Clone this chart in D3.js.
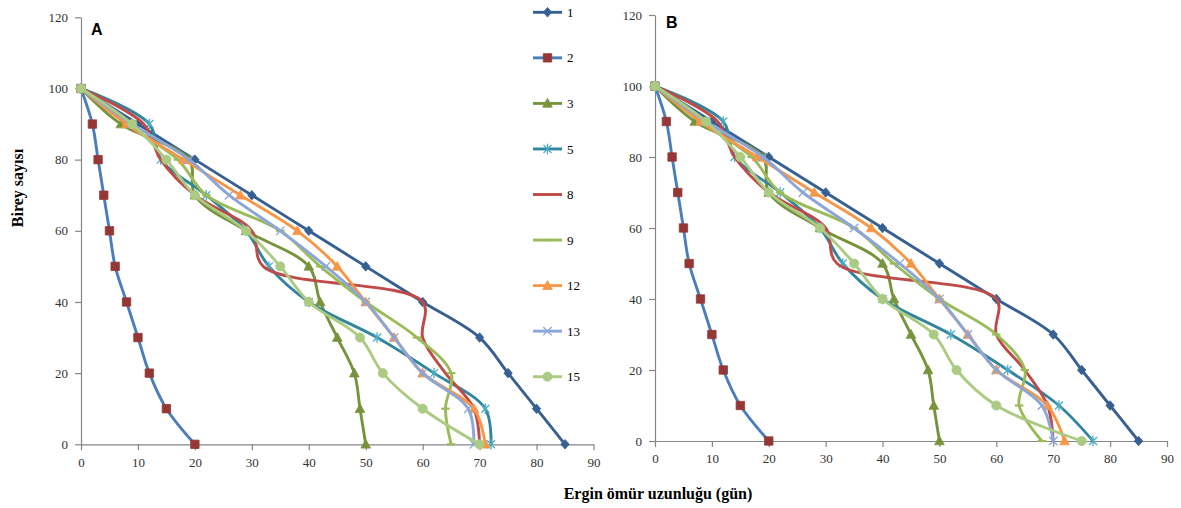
<!DOCTYPE html>
<html>
<head>
<meta charset="utf-8">
<script src="https://cdn.jsdelivr.net/npm/d3@7"></script>
<style>
  body { margin: 0; background: #fff; }
  svg { display: block; }
</style>
</head>
<body>
<div id="chartArea"></div>
<script>
const w = 1181;
const h = 508;

// number of individuals still alive (y) at each reading
const birey = [100, 90, 80, 70, 60, 50, 40, 30, 20, 10, 0];
const seriesNames = ["1", "2", "3", "5", "8", "9", "12", "13", "15"];
const yTicks = [0, 20, 40, 60, 80, 100, 120];
const xTicks = [0, 10, 20, 30, 40, 50, 60, 70, 80, 90];

// panel A: day reached for each level
const a1  = [0, 10, 20, 30, 40, 50, 60, 70, 75, 80, 85];
const a2  = [0, 2, 3, 4, 5, 6, 8, 10, 12, 15, 20];
const a3  = [0, 7, 19, 20, 29, 40, 42, 45, 48, 49, 50];
const a5  = [0, 12, 14, 22, 29, 33, 40, 52, 62, 71, 72];
const a8  = [0, 11, 14, 20, 30, 32, 60, 60, 64, 69, 70];
const a9  = [0, 8, 17, 22, 35, 42, 50, 59, 65, 64, 65];
const a12 = [0, 8, 18, 28, 38, 45, 50, 55, 60, 69, 71];
const a13 = [0, 9, 19, 26, 35, 43, 50, 55, 60, 68, 69];
const a15 = [0, 9, 15, 20, 29, 35, 40, 49, 53, 60, 70];

// panel B
const b1  = [0, 10, 20, 30, 40, 50, 60, 70, 75, 80, 85];
const b2  = [0, 2, 3, 4, 5, 6, 8, 10, 12, 15, 20];
const b3  = [0, 7, 19, 20, 29, 40, 42, 45, 48, 49, 50];
const b5  = [0, 12, 14, 22, 29, 33, 40, 52, 62, 71, 77];
const b8  = [0, 11, 14, 20, 30, 32, 60, 60, 65, 69, 70];
const b9  = [0, 8, 17, 22, 35, 42, 50, 60, 65, 64, 68];
const b12 = [0, 8, 18, 28, 38, 45, 50, 55, 60, 69, 72];
const b13 = [0, 9, 19, 26, 35, 43, 50, 55, 60, 68, 70];
const b15 = [0, 9, 15, 20, 29, 35, 40, 49, 53, 60, 75];

const lineColors = ["#376092", "#4A7EBB", "#77933C", "#31859C", "#BE4B48", "#9BBB59", "#F79646", "#8CA6D8", "#ABCB82"];
const markColors = ["#376092", "#953735", "#77933C", "#4BACC6", "none", "#9BBB59", "#F79646", "#8CA6D8", "#ABCB82"];
const markTypes  = ["diamond", "square", "triangle", "asterisk", "none", "dash", "triangle", "cross", "circle"];

const svg = d3.select("#chartArea")
    .append("svg")
    .attr("width", w)
    .attr("height", h);

svg.append("rect").attr("width", w).attr("height", h).attr("fill", "#fff");

function markerPath(type) {
    switch (type) {
        case "diamond": return "M0,-4.8L4.2,0L0,4.8L-4.2,0Z";
        case "square": return "M-4.2,-4.2H4.2V4.2H-4.2Z";
        case "triangle": return "M0,-5L4.8,3.8L-4.8,3.8Z";
        case "asterisk": return "M-4,-4L4,4M-4,4L4,-4M0,-5.2L0,5.2";
        case "cross": return "M-4.2,-4.2L4.2,4.2M-4.2,4.2L4.2,-4.2";
        case "dash": return "M-4.2,0L4.2,0";
        case "circle": return "M4.6,0A4.6,4.6 0 1,1 -4.6,0A4.6,4.6 0 1,1 4.6,0Z";
    }
    return "";
}

function drawMarker(g, type, color, px, py) {
    if (type === "none") return;
    const open = (type === "asterisk" || type === "cross" || type === "dash");
    g.append("path")
        .attr("d", markerPath(type))
        .attr("transform", `translate(${px},${py})`)
        .attr("fill", open ? "none" : color)
        .attr("stroke", color)
        .attr("stroke-width", open ? (type === "dash" ? 2.2 : 1.3) : 0.8);
}

function drawPanel(box, days, letter) {
    const x = d3.scaleLinear().domain([0, 90]).range([box.x0, box.x1]);
    const y = d3.scaleLinear().domain([0, 120]).range([box.y0, box.y1]);

    const yAxis = d3.axisLeft(y).tickValues(yTicks).tickSize(6).tickSizeOuter(0).tickPadding(7);
    const xAxis = d3.axisBottom(x).tickValues(xTicks).tickSize(6).tickSizeOuter(0).tickPadding(7);

    const gy = svg.append("g").attr("transform", `translate(${box.x0},0)`).call(yAxis);
    const gx = svg.append("g").attr("transform", `translate(0,${box.y0})`).call(xAxis);
    [gx, gy].forEach(g => {
        g.select(".domain").attr("stroke", "#868686").attr("stroke-width", 1.2);
        g.selectAll(".tick line").attr("stroke", "#868686").attr("stroke-width", 1.2);
        g.selectAll(".tick text")
            .attr("font-family", "'Liberation Serif', 'Times New Roman', serif")
            .attr("font-size", 13)
            .attr("fill", "#333");
    });

    svg.append("text")
        .attr("x", box.lx)
        .attr("y", box.ly)
        .attr("font-family", "'Liberation Sans', Arial, sans-serif")
        .attr("font-weight", "bold")
        .attr("font-size", 16)
        .attr("fill", "#000")
        .text(letter);

    const line = d3.line()
        .x(d => x(d[0]))
        .y(d => y(d[1]))
        .curve(d3.curveCatmullRom.alpha(0.5));

    days.forEach((arr, i) => {
        const pts = arr.map((d, j) => [d, birey[j]]);
        const g = svg.append("g");
        g.append("path")
            .attr("d", line(pts))
            .attr("fill", "none")
            .attr("stroke", lineColors[i])
            .attr("stroke-width", 2.9)
            .attr("stroke-linejoin", "round");
        pts.forEach(p => drawMarker(g, markTypes[i], markColors[i], x(p[0]), y(p[1])));
    });
}

drawPanel({x0: 81, x1: 593.5, y0: 444.3, y1: 17.3, lx: 91, ly: 35},
    [a1, a2, a3, a5, a8, a9, a12, a13, a15], "A");
drawPanel({x0: 655, x1: 1167, y0: 441, y1: 15, lx: 666, ly: 28},
    [b1, b2, b3, b5, b8, b9, b12, b13, b15], "B");

// legend between the panels
const legend = svg.append("g");
seriesNames.forEach((name, i) => {
    const ly = 12.3 + i * 45.55;
    legend.append("line")
        .attr("x1", 533).attr("x2", 562)
        .attr("y1", ly).attr("y2", ly)
        .attr("stroke", lineColors[i])
        .attr("stroke-width", 2.9);
    drawMarker(legend, markTypes[i], markColors[i], 547.5, ly);
    legend.append("text")
        .attr("x", 567)
        .attr("y", ly)
        .attr("dy", "0.35em")
        .attr("font-family", "'Liberation Serif', 'Times New Roman', serif")
        .attr("font-size", 13)
        .attr("fill", "#000")
        .text(name);
});

// axis titles
svg.append("text")
    .attr("transform", "translate(23,188) rotate(-90)")
    .attr("text-anchor", "middle")
    .attr("font-family", "'Liberation Serif', 'Times New Roman', serif")
    .attr("font-weight", "bold")
    .attr("font-size", 16)
    .attr("fill", "#000")
    .text("Birey sayısı");

svg.append("text")
    .attr("x", 658)
    .attr("y", 499)
    .attr("text-anchor", "middle")
    .attr("font-family", "'Liberation Serif', 'Times New Roman', serif")
    .attr("font-weight", "bold")
    .attr("font-size", 16)
    .attr("fill", "#000")
    .text("Ergin ömür uzunluğu (gün)");
</script>
</body>
</html>
